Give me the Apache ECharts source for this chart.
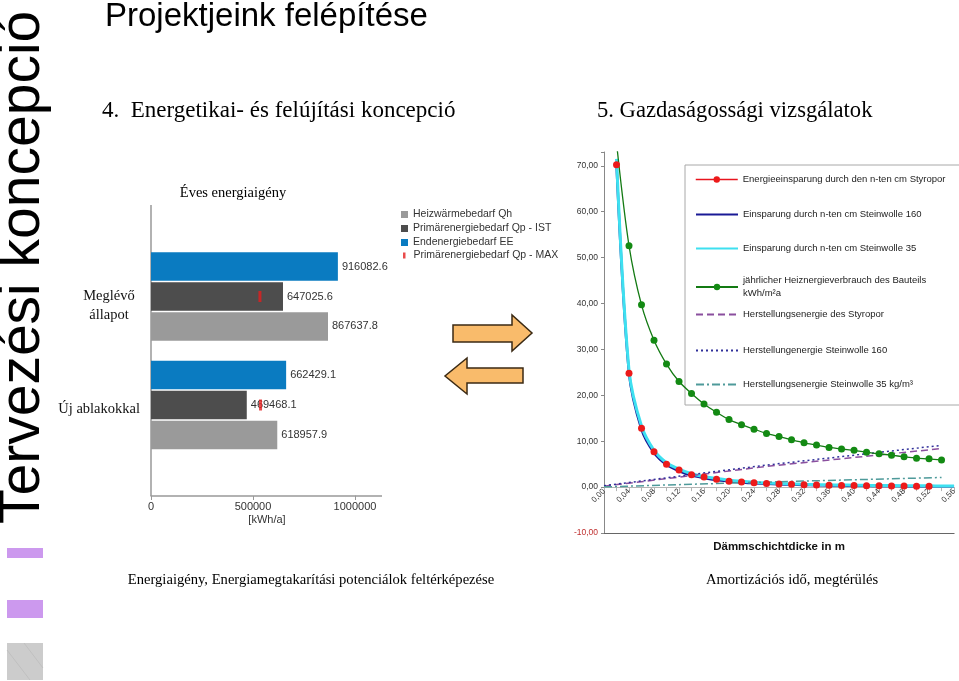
<!DOCTYPE html>
<html><head><meta charset="utf-8">
<script src="https://cdn.jsdelivr.net/npm/echarts@6/dist/echarts.min.js"></script>
<style>html,body{margin:0;padding:0;background:#fff}#c{width:959px;height:681px}</style>
</head><body><div id="c"></div>
<script>
// ---------- Left chart: Éves energiaigény ----------
const barCategories = ['Új ablakokkal', 'Meglévő állapot'];
const heizwaerme = [618957.9, 867637.8];      // Heizwärmebedarf Qh
const primaerIst = [469468.1, 647025.6];      // Primärenergiebedarf Qp - IST
const endenergie = [662429.1, 916082.6];      // Endenergiebedarf EE
const primaerMax = [537000, 534000];          // Primärenergiebedarf Qp - MAX
const barAxisMax = 1000000;
const barAxisStep = 500000;

// ---------- Right chart: Dämmschichtdicke ----------
const thickness = ['0,00','0,02','0,04','0,06','0,08','0,10','0,12','0,14','0,16','0,18',
  '0,20','0,22','0,24','0,26','0,28','0,30','0,32','0,34','0,36','0,38',
  '0,40','0,42','0,44','0,46','0,48','0,50','0,52','0,54','0,56'];
const einsparStyropor = [null, 70.2, 24.8, 12.8, 7.7, 5.0, 3.7, 2.7, 2.2, 1.7, 1.3, 1.1, 0.95, 0.8,
  0.65, 0.6, 0.5, 0.45, 0.4, 0.35, 0.35, 0.3, 0.28, 0.25, 0.22, 0.2, 0.2];
const einsparSW160 = [null, 70.5, 24.9, 12.6, 7.5, 4.9, 3.5, 2.55, 2.0, 1.55, 1.25, 1.0, 0.85, 0.72,
  0.62, 0.54, 0.47, 0.42, 0.37, 0.33, 0.3, 0.27, 0.25, 0.23, 0.21, 0.2, 0.18, 0.17, 0.16];
const einsparSW35 = [null, 71.5, 25.5, 13.3, 8.0, 5.3, 3.9, 2.9, 2.3, 1.85, 1.5, 1.25, 1.05, 0.9,
  0.8, 0.7, 0.62, 0.55, 0.5, 0.45, 0.42, 0.38, 0.35, 0.33, 0.3, 0.28, 0.27, 0.25, 0.24];
const heizverbrauch = [null, 75, 52.6, 39.7, 32.0, 26.8, 23.0, 20.4, 18.1, 16.3, 14.7, 13.6, 12.6, 11.7,
  11.0, 10.3, 9.65, 9.15, 8.65, 8.3, 8.0, 7.6, 7.25, 6.95, 6.6, 6.3, 6.15, 5.9];
const herstStyropor = [['0,00', 0.2], ['0,14', 2.5], ['0,26', 4.5], ['0,54', 8.4]];
const herstSW160 = [['0,00', 0.3], ['0,26', 4.8], ['0,54', 9.1]];
const herstSW35 = [['0,00', 0.05], ['0,26', 1.1], ['0,54', 2.1]];
const lineYMin = -10, lineYMax = 73, lineYStep = 10;

const SERIF = '"Liberation Serif", "Times New Roman", serif';
const SANS = '"Liberation Sans", Arial, sans-serif';
const dec2 = v => v.toFixed(2).replace('.', ',');

const N = {
  qh: 'Heizwärmebedarf Qh', ist: 'Primärenergiebedarf Qp - IST', ee: 'Endenergiebedarf EE', max: 'Primärenergiebedarf Qp - MAX',
  s1: 'Energieeinsparung durch den n-ten cm Styropor', s2: 'Einsparung durch n-ten cm Steinwolle 160',
  s3: 'Einsparung durch n-ten cm Steinwolle 35', s4: 'jährlicher Heiznergieverbrauch des Bauteils kWh/m²a',
  s5: 'Herstellungsenergie des Styropor', s6: 'Herstellungenergie Steinwolle 160', s7: 'Herstellungsenergie Steinwolle 35 kg/m³'
};

const barLabel = {show: true, position: 'right', distance: 4, fontSize: 11, color: '#333', fontFamily: SANS};

function rightLegend(name, top, extra) {
  return Object.assign({
    data: [name], orient: 'vertical', left: 695, top: top, padding: 0,
    itemWidth: 42, itemHeight: 8, selectedMode: false,
    textStyle: {fontSize: 9.5, fontFamily: SANS, color: '#222', lineHeight: 13}
  }, extra || {});
}
const noDot = {itemStyle: {opacity: 0}};

// y offset of zero line above the grid bottom (grid height 381 for 83 units)
const zeroOffset = -381 * (0 - lineYMin) / (lineYMax - lineYMin);

const chart = echarts.init(document.getElementById('c'), null, {width: 959, height: 681});
chart.setOption({
  animation: false,
  backgroundColor: '#fff',
  textStyle: {fontFamily: SANS},
  grid: [
    {left: 151, top: 242.25, width: 204, height: 217},
    {left: 604, top: 152, width: 367, height: 381}
  ],
  xAxis: [
    {gridIndex: 0, type: 'value', min: 0, max: barAxisMax, interval: barAxisStep, offset: 36.75,
     axisLine: {show: true, lineStyle: {color: '#999', width: 1.5}},
     axisTick: {show: true, length: 4, lineStyle: {color: '#999'}},
     splitLine: {show: false},
     axisLabel: {fontSize: 11, color: '#333', margin: 5, fontFamily: SANS, formatter: v => String(v)},
     name: '[kWh/a]', nameLocation: 'middle', nameGap: 18,
     nameTextStyle: {fontSize: 11, color: '#333', fontFamily: SANS, padding: [0, 0, 0, 28]}},
    {gridIndex: 1, type: 'category', data: thickness, boundaryGap: false, position: 'bottom', offset: zeroOffset,
     axisLine: {onZero: false, lineStyle: {color: '#b4b4b4', width: 1}},
     axisTick: {show: true, interval: 0, length: 4, lineStyle: {color: '#b4b4b4'}},
     axisLabel: {interval: 1, rotate: 45, fontSize: 8, color: '#333', margin: 3, fontFamily: SANS}},
    {gridIndex: 1, type: 'category', data: thickness, boundaryGap: false, position: 'bottom',
     axisLine: {onZero: false, lineStyle: {color: '#666', width: 1.2}},
     axisTick: {show: false}, axisLabel: {show: false},
     name: 'Dämmschichtdicke in m', nameLocation: 'middle', nameGap: 8,
     nameTextStyle: {fontWeight: 'bold', fontSize: 11.5, color: '#111', fontFamily: SANS}}
  ],
  yAxis: [
    {gridIndex: 0, type: 'category', data: barCategories,
     axisLine: {show: false}, axisTick: {show: false},
     axisLabel: {margin: 11, color: '#111', fontFamily: SERIF, fontSize: 14.5,
       formatter: v => v === 'Meglévő állapot' ? '{sp| }\n{m|Meglévő}\n{m|állapot}' : '{sq| }\n{u|' + v + '}',
       rich: {
         sp: {fontSize: 10, lineHeight: 18},
         sq: {fontSize: 6, lineHeight: 8},
         m: {width: 62, align: 'center', fontSize: 14.5, fontFamily: SERIF, color: '#111', lineHeight: 19},
         u: {fontSize: 14.5, fontFamily: SERIF, color: '#111', lineHeight: 19}
       }}},
    {gridIndex: 1, type: 'value', min: lineYMin, max: lineYMax, interval: lineYStep,
     axisLine: {show: true, lineStyle: {color: '#888'}},
     axisTick: {show: true, length: 3, lineStyle: {color: '#888'}},
     splitLine: {show: false},
     axisLabel: {formatter: v => v > 70 ? '' : dec2(v), color: v => (v < 0 ? '#c03030' : '#333'),
       fontSize: 8.5, margin: 6, fontFamily: SANS}}
  ],
  legend: [
    {data: [N.qh, N.ist, N.ee], orient: 'vertical', left: 401, top: 209, padding: 0, icon: 'rect',
     itemWidth: 7, itemHeight: 7, itemGap: 3, selectedMode: false,
     textStyle: {fontSize: 10.5, color: '#333', fontFamily: SANS}},
    {data: [N.max], orient: 'vertical', left: 403, top: 250, padding: 0, icon: 'rect',
     itemWidth: 2.5, itemHeight: 6, selectedMode: false,
     textStyle: {fontSize: 10.5, color: '#333', fontFamily: SANS, padding: [0, 0, 0, 3]}},
    rightLegend(N.s1, 173, {lineStyle: {color: '#e8141e', width: 1.5, opacity: 1}}),
    rightLegend(N.s2, 208, noDot),
    rightLegend(N.s3, 242, noDot),
    rightLegend(N.s4, 274, {formatter: n => n.replace(' kWh', '\nkWh')}),
    rightLegend(N.s5, 308, noDot),
    rightLegend(N.s6, 344, noDot),
    rightLegend(N.s7, 378, noDot)
  ],
  series: [
    {name: N.ee, type: 'bar', xAxisIndex: 0, yAxisIndex: 0, data: endenergie, barWidth: 28.5, barGap: '5%',
     itemStyle: {color: '#0a7bc1'}, label: barLabel},
    {name: N.ist, type: 'bar', xAxisIndex: 0, yAxisIndex: 0, data: primaerIst, barWidth: 28.5, barGap: '5%',
     itemStyle: {color: '#4d4d4d'}, label: barLabel},
    {name: N.qh, type: 'bar', xAxisIndex: 0, yAxisIndex: 0, data: heizwaerme, barWidth: 28.5, barGap: '5%',
     itemStyle: {color: '#9a9a9a'}, label: barLabel},
    {name: N.max, type: 'scatter', xAxisIndex: 0, yAxisIndex: 0, z: 5,
     data: primaerMax.map((v, i) => [v, barCategories[i]]),
     symbol: 'rect', symbolSize: [3, 11], itemStyle: {color: '#e41e1e'}},

    {name: N.s2, type: 'line', xAxisIndex: 1, yAxisIndex: 1, data: einsparSW160, symbol: 'none', smooth: 0.3,
     lineStyle: {color: '#1a1a96', width: 2.5}, itemStyle: {color: '#1a1a96'}},
    {name: N.s3, type: 'line', xAxisIndex: 1, yAxisIndex: 1, data: einsparSW35, symbol: 'none', smooth: 0.3,
     lineStyle: {color: '#3ee0f0', width: 3}, itemStyle: {color: '#3ee0f0'}},
    {name: N.s5, type: 'line', xAxisIndex: 1, yAxisIndex: 1, data: herstStyropor, symbol: 'none',
     lineStyle: {color: '#8a4f9e', width: 1.5, type: [7, 4]}, itemStyle: {color: '#8a4f9e'}},
    {name: N.s6, type: 'line', xAxisIndex: 1, yAxisIndex: 1, data: herstSW160, symbol: 'none',
     lineStyle: {color: '#30309a', width: 1.5, type: [2, 3]}, itemStyle: {color: '#30309a'}},
    {name: N.s7, type: 'line', xAxisIndex: 1, yAxisIndex: 1, data: herstSW35, symbol: 'none',
     lineStyle: {color: '#4e9a9a', width: 1.5, type: [8, 3, 2, 3]}, itemStyle: {color: '#4e9a9a'}},
    {name: N.s4, type: 'line', xAxisIndex: 1, yAxisIndex: 1, data: heizverbrauch, smooth: 0.3,
     symbol: 'circle', symbolSize: 7, showAllSymbol: true,
     lineStyle: {color: '#137a13', width: 1.3}, itemStyle: {color: '#138a13'}},
    {name: N.s1, type: 'line', xAxisIndex: 1, yAxisIndex: 1, data: einsparStyropor, smooth: 0.3,
     symbol: 'circle', symbolSize: 7, showAllSymbol: true,
     lineStyle: {color: '#e8141e', width: 1.5, opacity: 0}, itemStyle: {color: '#ec1a1a'}}
  ],
  graphic: [
    // left vertical band text
    {type: 'text', x: 23, y: 524, rotation: Math.PI / 2,
     style: {text: 'Tervezési koncepció', font: '57px "Liberation Sans", Arial, sans-serif', fill: '#000', align: 'left', verticalAlign: 'middle'}},
    {type: 'rect', shape: {x: 7, y: 548, width: 36, height: 10}, style: {fill: '#cc99ee'}},
    {type: 'rect', shape: {x: 7, y: 600, width: 36, height: 18}, style: {fill: '#cc99ee'}},
    {type: 'rect', shape: {x: 7, y: 643, width: 36, height: 37}, style: {fill: '#cccccc'}},
    {type: 'line', shape: {x1: 7, y1: 650, x2: 30, y2: 680}, style: {stroke: '#bdbdbd', lineWidth: 0.8}},
    {type: 'line', shape: {x1: 24, y1: 643, x2: 43, y2: 668}, style: {stroke: '#bdbdbd', lineWidth: 0.8}},
    // headings
    {type: 'text', x: 105, y: 17, style: {text: 'Projektjeink felépítése', font: '33px "Liberation Sans", Arial, sans-serif', fill: '#000', align: 'left', verticalAlign: 'middle'}},
    {type: 'text', x: 102, y: 111, style: {text: '4.  Energetikai- és felújítási koncepció', font: '23px "Liberation Serif", "Times New Roman", serif', fill: '#000', align: 'left', verticalAlign: 'middle'}},
    {type: 'text', x: 597, y: 111, style: {text: '5. Gazdaságossági vizsgálatok', font: '22.6px "Liberation Serif", "Times New Roman", serif', fill: '#000', align: 'left', verticalAlign: 'middle'}},
    {type: 'text', x: 233, y: 193, style: {text: 'Éves energiaigény', font: '14.5px "Liberation Serif", "Times New Roman", serif', fill: '#000', align: 'center', verticalAlign: 'middle'}},
    {type: 'text', x: 311, y: 580, style: {text: 'Energiaigény, Energiamegtakarítási potenciálok feltérképezése', font: '14.6px "Liberation Serif", "Times New Roman", serif', fill: '#000', align: 'center', verticalAlign: 'middle'}},
    {type: 'text', x: 792, y: 580, style: {text: 'Amortizációs idő, megtérülés', font: '14.6px "Liberation Serif", "Times New Roman", serif', fill: '#000', align: 'center', verticalAlign: 'middle'}},
    // left chart axis lines
    {type: 'line', shape: {x1: 151, y1: 205, x2: 151, y2: 496}, style: {stroke: '#999', lineWidth: 1.5}},
    {type: 'line', shape: {x1: 355, y1: 496, x2: 382, y2: 496}, style: {stroke: '#999', lineWidth: 1.5}},
    // arrows
    {type: 'polygon', shape: {points: [[453, 325], [512, 325], [512, 315], [532, 333], [512, 351], [512, 342], [453, 342]]},
     style: {fill: '#f9bb6b', stroke: '#3b2a14', lineWidth: 1.5}},
    {type: 'polygon', shape: {points: [[523, 368], [467, 368], [467, 358], [445, 376], [467, 394], [467, 383], [523, 383]]},
     style: {fill: '#f9bb6b', stroke: '#3b2a14', lineWidth: 1.5}},
    // right legend box
    {type: 'rect', z: 3, shape: {x: 685, y: 165, width: 300, height: 240}, style: {fill: '#fff', stroke: '#a8a8a8', lineWidth: 1}}
  ]
});
</script></body></html>
